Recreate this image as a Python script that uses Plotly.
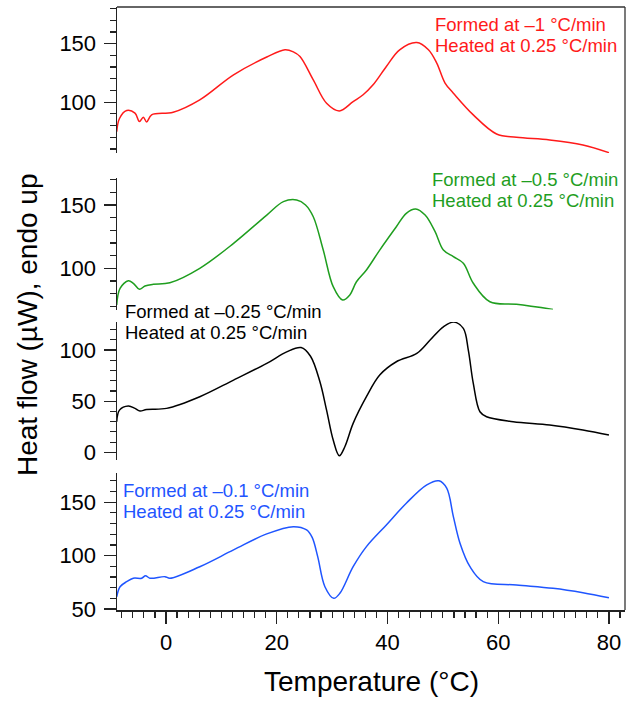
import plotly.graph_objects as go

# ---- data ----
red_T = [-8.9, -8.4, -7.1, -5.6, -4.8, -4.1, -3.5, -2.6, 1.3, 6.1, 12.2, 18.2, 21.5, 23.0, 24.2, 26.6, 29.0, 31.3,
         33.8, 35.6, 37.4, 39.8, 42.2, 45.3, 47.4, 48.9, 50.4, 51.9, 55.5, 59.7, 63.3, 69.3, 75.3, 80.0]
red_V = [74.8, 86.0, 92.8, 90.6, 83.4, 87.1, 83.1, 89.1, 91.4, 102.0, 123.4, 138.6, 144.8, 143.0, 139.0, 119.0, 99.0, 92.5,
         100.5, 106.3, 114.8, 130.5, 144.8, 151.0, 144.8, 133.4, 116.3, 107.7, 89.1, 72.8, 70.0, 67.7, 63.4, 56.8]

green_T = [-8.9, -8.3, -6.8, -5.9, -4.8, -3.8, -2.3, 0.7, 6.1, 12.2, 18.2, 21.2, 23.6, 25.2, 26.6, 28.4, 30.2, 31.9,
           33.2, 34.4, 36.2, 38.6, 41.6, 43.4, 45.1, 46.8, 48.6, 50.1, 51.9, 53.7, 55.5, 58.5, 63.3, 69.9]
green_V = [71.0, 84.2, 90.2, 88.2, 83.4, 86.0, 87.4, 88.6, 100.0, 119.7, 142.0, 152.6, 153.9, 150.0, 140.7, 114.4, 85.5, 75.0,
           79.0, 89.4, 98.7, 114.4, 132.8, 143.4, 146.8, 142.0, 128.9, 114.4, 109.2, 104.0, 88.2, 73.6, 71.6, 67.6]

black_T = [-8.9, -8.4, -6.8, -5.6, -4.7, -3.5, 0.1, 6.1, 12.2, 18.2, 21.8, 24.4, 26.1, 27.8, 29.0, 30.2, 31.3, 32.3,
           33.8, 36.2, 38.6, 41.6, 45.3, 47.7, 50.1, 52.0, 53.7, 54.6, 55.5, 56.7, 57.9, 62.7, 69.3, 75.3, 80.0]
black_V = [30.0, 41.3, 45.3, 43.0, 40.4, 42.0, 43.0, 54.4, 70.7, 87.0, 98.3, 102.5, 94.0, 69.0, 41.3, 12.0, -3.3, 5.5,
           28.3, 54.4, 75.6, 88.6, 96.8, 109.8, 122.8, 127.4, 121.2, 100.0, 67.4, 39.7, 34.8, 30.0, 26.7, 21.8, 16.9]

blue_T = [-8.9, -8.3, -7.1, -5.9, -4.4, -3.7, -2.9, -0.2, 0.7, 6.1, 12.2, 18.2, 23.0, 25.4, 26.4, 27.4, 28.7, 30.3,
          31.4, 33.8, 36.2, 39.8, 43.4, 47.1, 49.3, 50.7, 51.9, 53.1, 54.9, 57.3, 63.3, 69.9, 75.3, 80.0]
blue_V = [61.5, 70.9, 75.6, 78.8, 78.8, 81.2, 78.8, 80.3, 78.8, 89.6, 105.3, 120.3, 127.1, 124.0, 117.0, 99.0, 70.9, 60.0,
          64.7, 89.6, 108.4, 128.7, 149.0, 166.2, 170.0, 163.1, 136.5, 111.6, 89.6, 75.6, 72.5, 69.4, 65.3, 60.6]

label_lines = [
    ["Formed at \u20131 \u00b0C/min", "Heated at 0.25 \u00b0C/min"],
    ["Formed at \u20130.5 \u00b0C/min", "Heated at 0.25 \u00b0C/min"],
    ["Formed at \u20130.25 \u00b0C/min", "Heated at 0.25 \u00b0C/min"],
    ["Formed at \u20130.1 \u00b0C/min", "Heated at 0.25 \u00b0C/min"],
]
colors = ["#ff1a1a", "#1f9e1f", "#000000", "#1f55ff"]

x_title = "Temperature (\u00b0C)"
y_title = "Heat flow (\u00b5W), endo up"

FONT = "Liberation Sans, Arial, Helvetica, sans-serif"

# ---- layout geometry (page px; body margin removed by post_script) ----
W, H = 626, 704
L, R, T, B = 117, 1, 7, 94
ph = H - T - B
pw = W - L - R

def fy(px):
    return (H - B - px) / ph

def fx(px):
    return (px - L) / pw

domains = [
    [fy(153), 1.0],
    [fy(309.5), fy(177.7)],
    [fy(460), fy(322)],
    [0.0, fy(473.3)],
]
ranges = [[56.5, 181.4], [67.5, 171.5], [-7.5, 127.5], [49.1, 177.0]]
tickvals = [[100, 150], [100, 150], [0, 50, 100], [50, 100, 150]]

fig = go.Figure()
series = [(red_T, red_V), (green_T, green_V), (black_T, black_V), (blue_T, blue_V)]
for i, (tx, vy) in enumerate(series):
    fig.add_trace(go.Scatter(
        x=tx, y=vy, mode="lines",
        line=dict(color=colors[i], width=1.5, shape="spline", smoothing=1.0),
        yaxis="y" if i == 0 else f"y{i+1}", xaxis="x", showlegend=False, hoverinfo="skip",
    ))

axis_common = dict(
    showline=True, linecolor="#222", linewidth=1.5, ticks="outside", ticklen=12, tickwidth=1.3,
    tickcolor="#222", showgrid=False, zeroline=False, automargin=False, ticklabelstandoff=3,
    tickfont=dict(family=FONT, size=22, color="#000"),
    minor=dict(ticks="outside", ticklen=6, tickwidth=1.2, tickcolor="#222", dtick=10, showgrid=False),
)

layout = dict(
    width=W, height=H, margin=dict(l=L, r=R, t=T, b=B, autoexpand=False),
    paper_bgcolor="white", plot_bgcolor="white", showlegend=False,
    font=dict(family=FONT, color="#000"),
    xaxis=dict(
        range=[-8.85, 82.9], anchor="y4", showline=True, linecolor="#222", linewidth=1.5,
        ticks="outside", ticklen=12, tickwidth=1.3, tickcolor="#222", automargin=False,
        tickvals=[0, 20, 40, 60, 80], showgrid=False, zeroline=False,
        tickfont=dict(family=FONT, size=22, color="#000"),
        minor=dict(ticks="outside", ticklen=6, tickwidth=1.2, tickcolor="#222", dtick=2, tick0=0, showgrid=False),
    ),
)
for i in range(4):
    key = "yaxis" if i == 0 else f"yaxis{i+1}"
    ax = dict(axis_common)
    ax.update(domain=domains[i], range=ranges[i], tickvals=tickvals[i], anchor="x")
    ax["minor"] = dict(axis_common["minor"], tick0=0)
    layout[key] = ax

fig.update_layout(**layout)

# frame: top and right borders
fig.add_shape(type="line", xref="paper", yref="paper", x0=0, x1=1, y0=1, y1=1,
              line=dict(color="#333", width=1.3))
fig.add_shape(type="line", xref="paper", yref="paper", x0=1, x1=1, y0=0, y1=1,
              line=dict(color="#333", width=1.3))

# text annotations: (left x, baseline line1, baseline line2) in page px
FS = 18.5
ann_pos = [(435, 30.7, 51.7), (432, 186, 206.7), (125, 318, 339.3), (123.3, 496.7, 518.3)]
for i, (px, b1, b2) in enumerate(ann_pos):
    for line_txt, base in zip(label_lines[i], (b1, b2)):
        fig.add_annotation(text=line_txt, xref="paper", yref="paper", x=fx(px), y=fy(base - 0.36 * FS),
                           xanchor="left", yanchor="middle", align="left", showarrow=False,
                           xshift=-2, font=dict(family=FONT, size=FS, color=colors[i]))

# axis titles
fig.add_annotation(text=x_title, xref="paper", yref="paper", x=fx(371), y=fy(681),
                   xanchor="center", yanchor="middle", showarrow=False,
                   font=dict(family=FONT, size=28, color="#000"))
fig.add_annotation(text=y_title, xref="paper", yref="paper", x=fx(27), y=fy(325),
                   xanchor="center", yanchor="middle", textangle=-90, showarrow=False,
                   font=dict(family=FONT, size=28, color="#000"))

fig.write_html(
    "out.html",
    config={"displayModeBar": False, "staticPlot": True},
    post_script="document.body.style.margin='0';document.body.style.overflow='hidden';"
                "document.documentElement.style.overflow='hidden';",
)
